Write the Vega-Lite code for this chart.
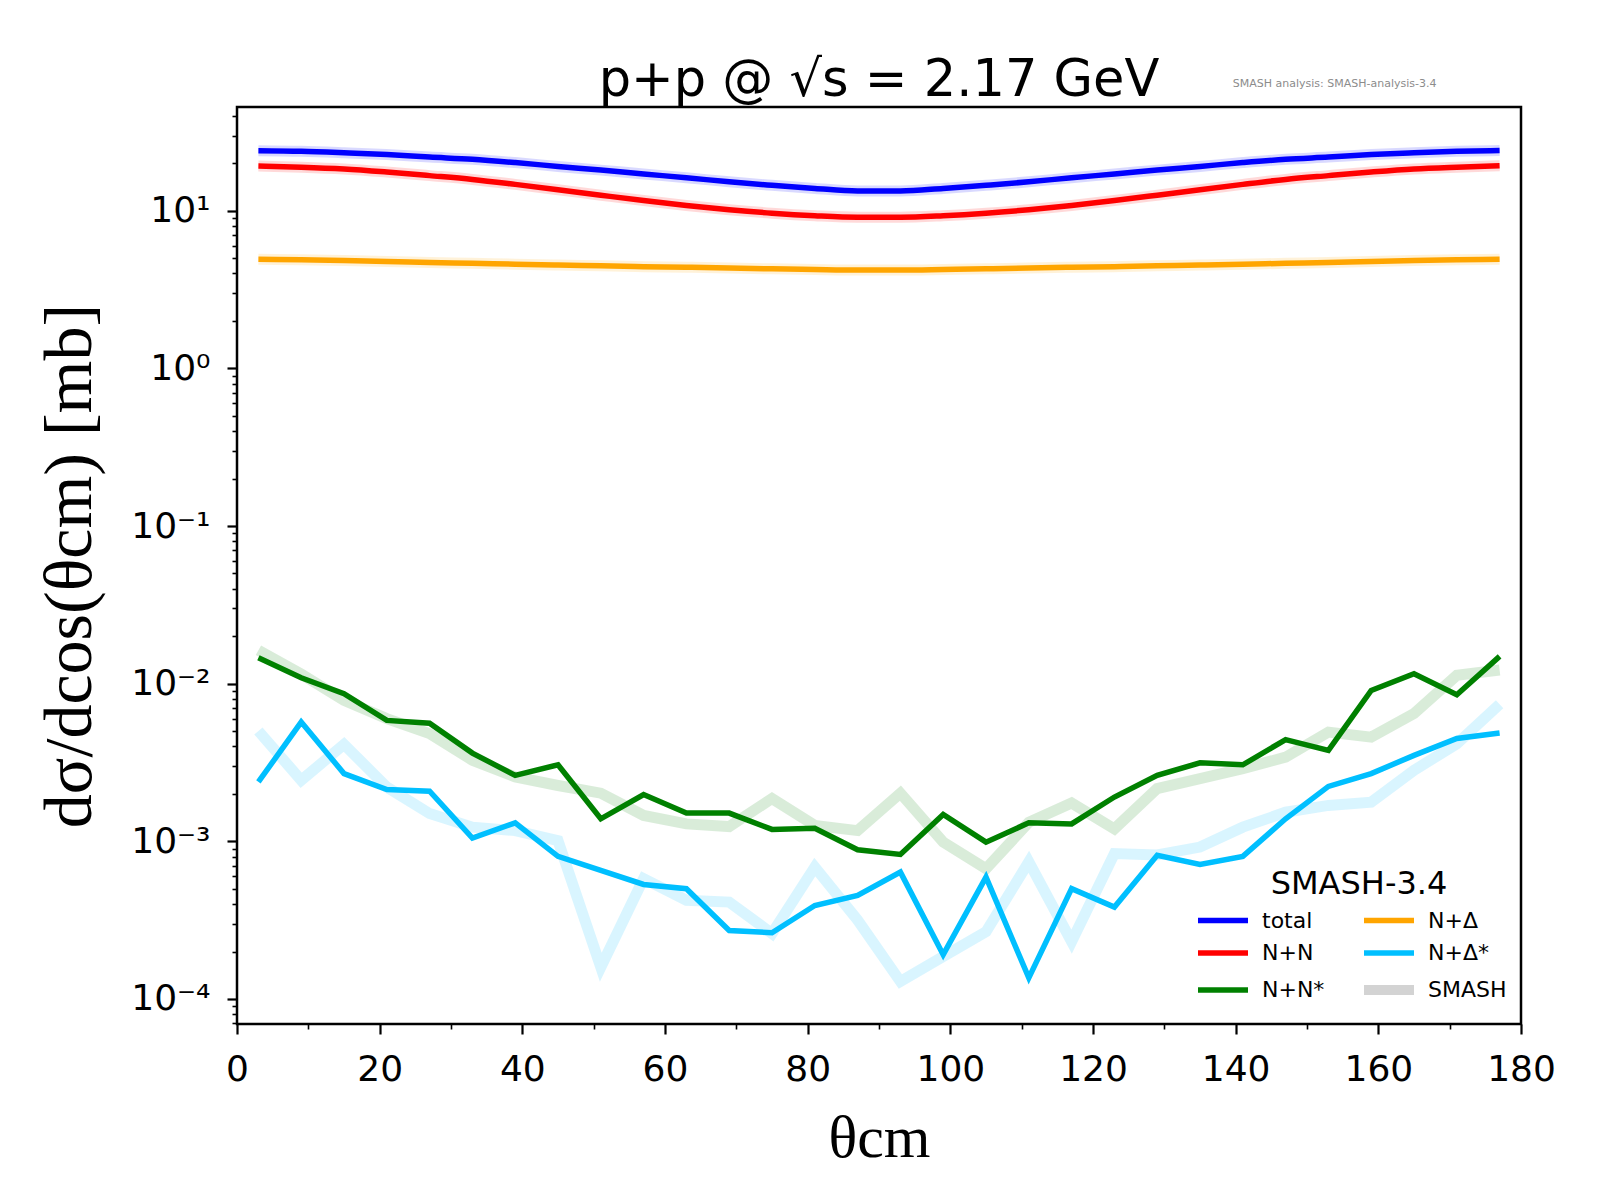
{
  "$schema": "https://vega.github.io/schema/vega-lite/v6.json",
  "width": 1284,
  "height": 917,
  "autosize": {"type": "none"},
  "padding": {"left": 237, "top": 107, "right": 79, "bottom": 176},
  "background": "white",
  "config": {
    "view": {"stroke": "black", "strokeWidth": 2.5},
    "font": "DejaVu Sans"
  },
  "title": {
    "text": "p+p @ √s = 2.17 GeV",
    "font": "DejaVu Sans",
    "fontSize": 51,
    "fontWeight": "normal",
    "color": "black",
    "anchor": "middle",
    "offset": 4,
    "dy": 33
  },
  "data": {
    "values": [
      {"theta": 3, "channel": "total", "run": 24.0, "smash": 24.0},
      {"theta": 9, "channel": "total", "run": 23.8, "smash": 23.8},
      {"theta": 15, "channel": "total", "run": 23.3, "smash": 23.3},
      {"theta": 21, "channel": "total", "run": 22.7, "smash": 22.7},
      {"theta": 27, "channel": "total", "run": 21.9, "smash": 21.9},
      {"theta": 33, "channel": "total", "run": 21.2, "smash": 21.2},
      {"theta": 39, "channel": "total", "run": 20.2, "smash": 20.2},
      {"theta": 45, "channel": "total", "run": 19.1, "smash": 19.1},
      {"theta": 51, "channel": "total", "run": 18.1, "smash": 18.1},
      {"theta": 57, "channel": "total", "run": 17.1, "smash": 17.1},
      {"theta": 63, "channel": "total", "run": 16.2, "smash": 16.2},
      {"theta": 69, "channel": "total", "run": 15.25, "smash": 15.25},
      {"theta": 75, "channel": "total", "run": 14.5, "smash": 14.5},
      {"theta": 81, "channel": "total", "run": 13.85, "smash": 13.85},
      {"theta": 87, "channel": "total", "run": 13.35, "smash": 13.35},
      {"theta": 93, "channel": "total", "run": 13.35, "smash": 13.35},
      {"theta": 99, "channel": "total", "run": 13.85, "smash": 13.85},
      {"theta": 105, "channel": "total", "run": 14.5, "smash": 14.5},
      {"theta": 111, "channel": "total", "run": 15.25, "smash": 15.25},
      {"theta": 117, "channel": "total", "run": 16.2, "smash": 16.2},
      {"theta": 123, "channel": "total", "run": 17.1, "smash": 17.1},
      {"theta": 129, "channel": "total", "run": 18.1, "smash": 18.1},
      {"theta": 135, "channel": "total", "run": 19.1, "smash": 19.1},
      {"theta": 141, "channel": "total", "run": 20.2, "smash": 20.2},
      {"theta": 147, "channel": "total", "run": 21.2, "smash": 21.2},
      {"theta": 153, "channel": "total", "run": 21.9, "smash": 21.9},
      {"theta": 159, "channel": "total", "run": 22.7, "smash": 22.7},
      {"theta": 165, "channel": "total", "run": 23.3, "smash": 23.3},
      {"theta": 171, "channel": "total", "run": 23.8, "smash": 23.8},
      {"theta": 177, "channel": "total", "run": 24.1, "smash": 24.1},

      {"theta": 3, "channel": "N+N", "run": 19.2, "smash": 19.2},
      {"theta": 9, "channel": "N+N", "run": 18.9, "smash": 18.9},
      {"theta": 15, "channel": "N+N", "run": 18.4, "smash": 18.4},
      {"theta": 21, "channel": "N+N", "run": 17.6, "smash": 17.6},
      {"theta": 27, "channel": "N+N", "run": 16.7, "smash": 16.7},
      {"theta": 33, "channel": "N+N", "run": 15.8, "smash": 15.8},
      {"theta": 39, "channel": "N+N", "run": 14.7, "smash": 14.7},
      {"theta": 45, "channel": "N+N", "run": 13.6, "smash": 13.6},
      {"theta": 51, "channel": "N+N", "run": 12.55, "smash": 12.55},
      {"theta": 57, "channel": "N+N", "run": 11.6, "smash": 11.6},
      {"theta": 63, "channel": "N+N", "run": 10.8, "smash": 10.8},
      {"theta": 69, "channel": "N+N", "run": 10.15, "smash": 10.15},
      {"theta": 75, "channel": "N+N", "run": 9.65, "smash": 9.65},
      {"theta": 81, "channel": "N+N", "run": 9.3, "smash": 9.3},
      {"theta": 87, "channel": "N+N", "run": 9.1, "smash": 9.1},
      {"theta": 93, "channel": "N+N", "run": 9.1, "smash": 9.1},
      {"theta": 99, "channel": "N+N", "run": 9.3, "smash": 9.3},
      {"theta": 105, "channel": "N+N", "run": 9.65, "smash": 9.65},
      {"theta": 111, "channel": "N+N", "run": 10.15, "smash": 10.15},
      {"theta": 117, "channel": "N+N", "run": 10.8, "smash": 10.8},
      {"theta": 123, "channel": "N+N", "run": 11.6, "smash": 11.6},
      {"theta": 129, "channel": "N+N", "run": 12.55, "smash": 12.55},
      {"theta": 135, "channel": "N+N", "run": 13.6, "smash": 13.6},
      {"theta": 141, "channel": "N+N", "run": 14.7, "smash": 14.7},
      {"theta": 147, "channel": "N+N", "run": 15.8, "smash": 15.8},
      {"theta": 153, "channel": "N+N", "run": 16.7, "smash": 16.7},
      {"theta": 159, "channel": "N+N", "run": 17.6, "smash": 17.6},
      {"theta": 165, "channel": "N+N", "run": 18.4, "smash": 18.4},
      {"theta": 171, "channel": "N+N", "run": 18.9, "smash": 18.9},
      {"theta": 177, "channel": "N+N", "run": 19.3, "smash": 19.3},

      {"theta": 3, "channel": "N+Δ", "run": 4.92, "smash": 4.92},
      {"theta": 9, "channel": "N+Δ", "run": 4.88, "smash": 4.88},
      {"theta": 15, "channel": "N+Δ", "run": 4.83, "smash": 4.83},
      {"theta": 21, "channel": "N+Δ", "run": 4.77, "smash": 4.77},
      {"theta": 27, "channel": "N+Δ", "run": 4.7, "smash": 4.7},
      {"theta": 33, "channel": "N+Δ", "run": 4.64, "smash": 4.64},
      {"theta": 39, "channel": "N+Δ", "run": 4.58, "smash": 4.58},
      {"theta": 45, "channel": "N+Δ", "run": 4.52, "smash": 4.52},
      {"theta": 51, "channel": "N+Δ", "run": 4.47, "smash": 4.47},
      {"theta": 57, "channel": "N+Δ", "run": 4.42, "smash": 4.42},
      {"theta": 63, "channel": "N+Δ", "run": 4.38, "smash": 4.38},
      {"theta": 69, "channel": "N+Δ", "run": 4.33, "smash": 4.33},
      {"theta": 75, "channel": "N+Δ", "run": 4.28, "smash": 4.28},
      {"theta": 81, "channel": "N+Δ", "run": 4.24, "smash": 4.24},
      {"theta": 87, "channel": "N+Δ", "run": 4.21, "smash": 4.21},
      {"theta": 93, "channel": "N+Δ", "run": 4.21, "smash": 4.21},
      {"theta": 99, "channel": "N+Δ", "run": 4.24, "smash": 4.24},
      {"theta": 105, "channel": "N+Δ", "run": 4.28, "smash": 4.28},
      {"theta": 111, "channel": "N+Δ", "run": 4.33, "smash": 4.33},
      {"theta": 117, "channel": "N+Δ", "run": 4.38, "smash": 4.38},
      {"theta": 123, "channel": "N+Δ", "run": 4.42, "smash": 4.42},
      {"theta": 129, "channel": "N+Δ", "run": 4.47, "smash": 4.47},
      {"theta": 135, "channel": "N+Δ", "run": 4.52, "smash": 4.52},
      {"theta": 141, "channel": "N+Δ", "run": 4.58, "smash": 4.58},
      {"theta": 147, "channel": "N+Δ", "run": 4.64, "smash": 4.64},
      {"theta": 153, "channel": "N+Δ", "run": 4.7, "smash": 4.7},
      {"theta": 159, "channel": "N+Δ", "run": 4.77, "smash": 4.77},
      {"theta": 165, "channel": "N+Δ", "run": 4.83, "smash": 4.83},
      {"theta": 171, "channel": "N+Δ", "run": 4.88, "smash": 4.88},
      {"theta": 177, "channel": "N+Δ", "run": 4.92, "smash": 4.92},

      {"theta": 3, "channel": "N+N*", "run": 0.0146, "smash": 0.0163},
      {"theta": 9, "channel": "N+N*", "run": 0.0109, "smash": 0.0115},
      {"theta": 15, "channel": "N+N*", "run": 0.00864, "smash": 0.00783},
      {"theta": 21, "channel": "N+N*", "run": 0.00585, "smash": 0.006},
      {"theta": 27, "channel": "N+N*", "run": 0.00562, "smash": 0.00482},
      {"theta": 33, "channel": "N+N*", "run": 0.00363, "smash": 0.00327},
      {"theta": 39, "channel": "N+N*", "run": 0.00262, "smash": 0.00256},
      {"theta": 45, "channel": "N+N*", "run": 0.00306, "smash": 0.00226},
      {"theta": 51, "channel": "N+N*", "run": 0.00139, "smash": 0.00202},
      {"theta": 57, "channel": "N+N*", "run": 0.00198, "smash": 0.00146},
      {"theta": 63, "channel": "N+N*", "run": 0.00151, "smash": 0.00129},
      {"theta": 69, "channel": "N+N*", "run": 0.00151, "smash": 0.00124},
      {"theta": 75, "channel": "N+N*", "run": 0.00119, "smash": 0.00187},
      {"theta": 81, "channel": "N+N*", "run": 0.00121, "smash": 0.00126},
      {"theta": 87, "channel": "N+N*", "run": 0.000885, "smash": 0.00117},
      {"theta": 93, "channel": "N+N*", "run": 0.000826, "smash": 0.00202},
      {"theta": 99, "channel": "N+N*", "run": 0.00148, "smash": 0.000989},
      {"theta": 105, "channel": "N+N*", "run": 0.000988, "smash": 0.00067},
      {"theta": 111, "channel": "N+N*", "run": 0.00131, "smash": 0.00132},
      {"theta": 117, "channel": "N+N*", "run": 0.00129, "smash": 0.00175},
      {"theta": 123, "channel": "N+N*", "run": 0.00191, "smash": 0.0012},
      {"theta": 129, "channel": "N+N*", "run": 0.00262, "smash": 0.00216},
      {"theta": 135, "channel": "N+N*", "run": 0.00315, "smash": 0.0025},
      {"theta": 141, "channel": "N+N*", "run": 0.00306, "smash": 0.00289},
      {"theta": 147, "channel": "N+N*", "run": 0.00442, "smash": 0.00342},
      {"theta": 153, "channel": "N+N*", "run": 0.00378, "smash": 0.00493},
      {"theta": 159, "channel": "N+N*", "run": 0.00906, "smash": 0.00458},
      {"theta": 165, "channel": "N+N*", "run": 0.01157, "smash": 0.00646},
      {"theta": 171, "channel": "N+N*", "run": 0.00851, "smash": 0.0113},
      {"theta": 177, "channel": "N+N*", "run": 0.0149, "smash": 0.0122},

      {"theta": 3, "channel": "N+Δ*", "run": 0.00238, "smash": 0.00501},
      {"theta": 9, "channel": "N+Δ*", "run": 0.00571, "smash": 0.00244},
      {"theta": 15, "channel": "N+Δ*", "run": 0.00269, "smash": 0.00412},
      {"theta": 21, "channel": "N+Δ*", "run": 0.00213, "smash": 0.00221},
      {"theta": 27, "channel": "N+Δ*", "run": 0.00208, "smash": 0.0015},
      {"theta": 33, "channel": "N+Δ*", "run": 0.00105, "smash": 0.00123},
      {"theta": 39, "channel": "N+Δ*", "run": 0.00131, "smash": 0.00117},
      {"theta": 45, "channel": "N+Δ*", "run": 0.000803, "smash": 0.00101},
      {"theta": 51, "channel": "N+Δ*", "run": 0.000655, "smash": 0.000159},
      {"theta": 57, "channel": "N+Δ*", "run": 0.000533, "smash": 0.00058},
      {"theta": 63, "channel": "N+Δ*", "run": 0.000501, "smash": 0.000423},
      {"theta": 69, "channel": "N+Δ*", "run": 0.000272, "smash": 0.000412},
      {"theta": 75, "channel": "N+Δ*", "run": 0.000263, "smash": 0.00026},
      {"theta": 81, "channel": "N+Δ*", "run": 0.000392, "smash": 0.000687},
      {"theta": 87, "channel": "N+Δ*", "run": 0.000454, "smash": 0.000317},
      {"theta": 93, "channel": "N+Δ*", "run": 0.000638, "smash": 0.000129},
      {"theta": 99, "channel": "N+Δ*", "run": 0.000191, "smash": 0.000186},
      {"theta": 105, "channel": "N+Δ*", "run": 0.000593, "smash": 0.000267},
      {"theta": 111, "channel": "N+Δ*", "run": 0.000136, "smash": 0.000741},
      {"theta": 117, "channel": "N+Δ*", "run": 0.000501, "smash": 0.000231},
      {"theta": 123, "channel": "N+Δ*", "run": 0.000383, "smash": 0.000836},
      {"theta": 129, "channel": "N+Δ*", "run": 0.000815, "smash": 0.00082},
      {"theta": 135, "channel": "N+Δ*", "run": 0.000714, "smash": 0.00092},
      {"theta": 141, "channel": "N+Δ*", "run": 0.000803, "smash": 0.00123},
      {"theta": 147, "channel": "N+Δ*", "run": 0.00139, "smash": 0.00153},
      {"theta": 153, "channel": "N+Δ*", "run": 0.00223, "smash": 0.00169},
      {"theta": 159, "channel": "N+Δ*", "run": 0.00269, "smash": 0.00177},
      {"theta": 165, "channel": "N+Δ*", "run": 0.00351, "smash": 0.00282},
      {"theta": 171, "channel": "N+Δ*", "run": 0.00449, "smash": 0.00416},
      {"theta": 177, "channel": "N+Δ*", "run": 0.00487, "smash": 0.0074}
    ]
  },
  "layer": [
    {
      "transform": [{"filter": "indexof(['total','N+N','N+Δ'], datum.channel) >= 0"}],
      "mark": {"type": "line", "interpolate": "monotone", "strokeWidth": 11, "opacity": 0.15, "strokeCap": "butt"},
      "encoding": {
        "x": {
          "field": "theta", "type": "quantitative",
          "scale": {"domain": [0, 180], "nice": false, "zero": false},
          "axis": {
            "title": "θcm",
            "titleFont": "Liberation Serif", "titleFontSize": 60, "titleFontWeight": "normal", "titleColor": "black",
            "titlePadding": 22,
            "values": [0, 10, 20, 30, 40, 50, 60, 70, 80, 90, 100, 110, 120, 130, 140, 150, 160, 170, 180],
            "labelExpr": "datum.value % 20 == 0 ? datum.label : ''",
            "labelFont": "DejaVu Sans", "labelFontSize": 36, "labelColor": "black",
            "labelPadding": 18, "labelOverlap": false, "labelBound": false, "labelFlush": false,
            "tickColor": "black",
            "tickSize": {"condition": {"test": "datum.value % 20 == 0", "value": 10}, "value": 5},
            "tickWidth": {"condition": {"test": "datum.value % 20 == 0", "value": 2.2}, "value": 1.6},
            "domain": false, "grid": false
          }
        },
        "y": {
          "field": "smash", "type": "quantitative",
          "title": "dσ/dcos(θcm) [mb]",
          "scale": {"type": "log", "domain": [0.0000694, 45.5], "nice": false},
          "axis": {
            "titleFont": "Liberation Serif", "titleFontSize": 68, "titleFontWeight": "normal", "titleColor": "black",
            "titlePadding": 26,
            "values": [0.00007, 0.00008, 0.00009,
                       0.0001, 0.0002, 0.0003, 0.0004, 0.0005, 0.0006, 0.0007, 0.0008, 0.0009,
                       0.001, 0.002, 0.003, 0.004, 0.005, 0.006, 0.007, 0.008, 0.009,
                       0.01, 0.02, 0.03, 0.04, 0.05, 0.06, 0.07, 0.08, 0.09,
                       0.1, 0.2, 0.3, 0.4, 0.5, 0.6, 0.7, 0.8, 0.9,
                       1, 2, 3, 4, 5, 6, 7, 8, 9,
                       10, 20, 30, 40],
            "labelExpr": "abs(log(datum.value)/LN10 - round(log(datum.value)/LN10)) < 0.001 ? '10' + ['⁻⁴','⁻³','⁻²','⁻¹','⁰','¹'][round(log(datum.value)/LN10) + 4] : ''",
            "labelFont": "DejaVu Sans", "labelFontSize": 36, "labelColor": "black",
            "labelPadding": 17, "labelOverlap": false, "labelBound": false, "labelFlush": false,
            "tickColor": "black",
            "tickSize": {"condition": {"test": "abs(log(datum.value)/LN10 - round(log(datum.value)/LN10)) < 0.001", "value": 10}, "value": 5},
            "tickWidth": {"condition": {"test": "abs(log(datum.value)/LN10 - round(log(datum.value)/LN10)) < 0.001", "value": 2.2}, "value": 1.6},
            "domain": false, "grid": false
          }
        },
        "color": {
          "field": "channel", "type": "nominal",
          "scale": {
            "domain": ["total", "N+N", "N+N*", "N+Δ", "N+Δ*", "SMASH"],
            "range": ["#0000ff", "#ff0000", "#008000", "#ffa500", "#00bfff", "#d3d3d3"]
          },
          "legend": {
            "title": "SMASH-3.4",
            "orient": "bottom-right",
            "offset": 14,
            "columns": 2,
            "direction": "vertical",
            "gridAlign": "all",
            "columnPadding": 3,
            "rowPadding": -3,
            "padding": 0,
            "titleFont": "DejaVu Sans", "titleFontSize": 32, "titleFontWeight": "normal", "titleColor": "black",
            "titleAnchor": "middle", "titlePadding": 4,
            "labelFont": "DejaVu Sans", "labelFontSize": 22, "labelColor": "black",
            "labelOffset": 28,
            "symbolType": "stroke", "symbolSize": 2500, "symbolStrokeWidth": 5.5, "symbolOpacity": 1,
            "encode": {
              "symbols": {
                "update": {
                  "strokeWidth": {"signal": "datum.value === 'SMASH' ? 10 : 5.5"}
                }
              }
            }
          }
        },
        "detail": {"field": "channel"}
      }
    },
    {
      "transform": [{"filter": "indexof(['N+N*','N+Δ*'], datum.channel) >= 0"}],
      "mark": {"type": "line", "strokeWidth": 11, "opacity": 0.15, "strokeJoin": "miter", "strokeCap": "butt"},
      "encoding": {
        "x": {"field": "theta", "type": "quantitative"},
        "y": {"field": "smash", "type": "quantitative", "title": "dσ/dcos(θcm) [mb]"},
        "color": {"field": "channel", "type": "nominal"}
      }
    },
    {
      "transform": [{"filter": "indexof(['total','N+N','N+Δ'], datum.channel) >= 0"}],
      "mark": {"type": "line", "interpolate": "monotone", "strokeWidth": 5.5, "strokeCap": "butt"},
      "encoding": {
        "x": {"field": "theta", "type": "quantitative"},
        "y": {"field": "run", "type": "quantitative", "title": "dσ/dcos(θcm) [mb]"},
        "color": {"field": "channel", "type": "nominal"}
      }
    },
    {
      "transform": [{"filter": "indexof(['N+N*','N+Δ*'], datum.channel) >= 0"}],
      "mark": {"type": "line", "strokeWidth": 5.5, "strokeJoin": "miter", "strokeCap": "butt"},
      "encoding": {
        "x": {"field": "theta", "type": "quantitative"},
        "y": {"field": "run", "type": "quantitative", "title": "dσ/dcos(θcm) [mb]"},
        "color": {"field": "channel", "type": "nominal"}
      }
    },
    {
      "data": {"values": [{"theta": 139.6, "run": 63.6, "label": "SMASH analysis: SMASH-analysis-3.4"}]},
      "mark": {"type": "text", "align": "left", "baseline": "middle", "font": "DejaVu Sans", "fontSize": 11, "color": "#8c8c8c"},
      "encoding": {
        "x": {"field": "theta", "type": "quantitative"},
        "y": {"field": "run", "type": "quantitative", "title": "dσ/dcos(θcm) [mb]"},
        "text": {"field": "label"}
      }
    }
  ]
}
